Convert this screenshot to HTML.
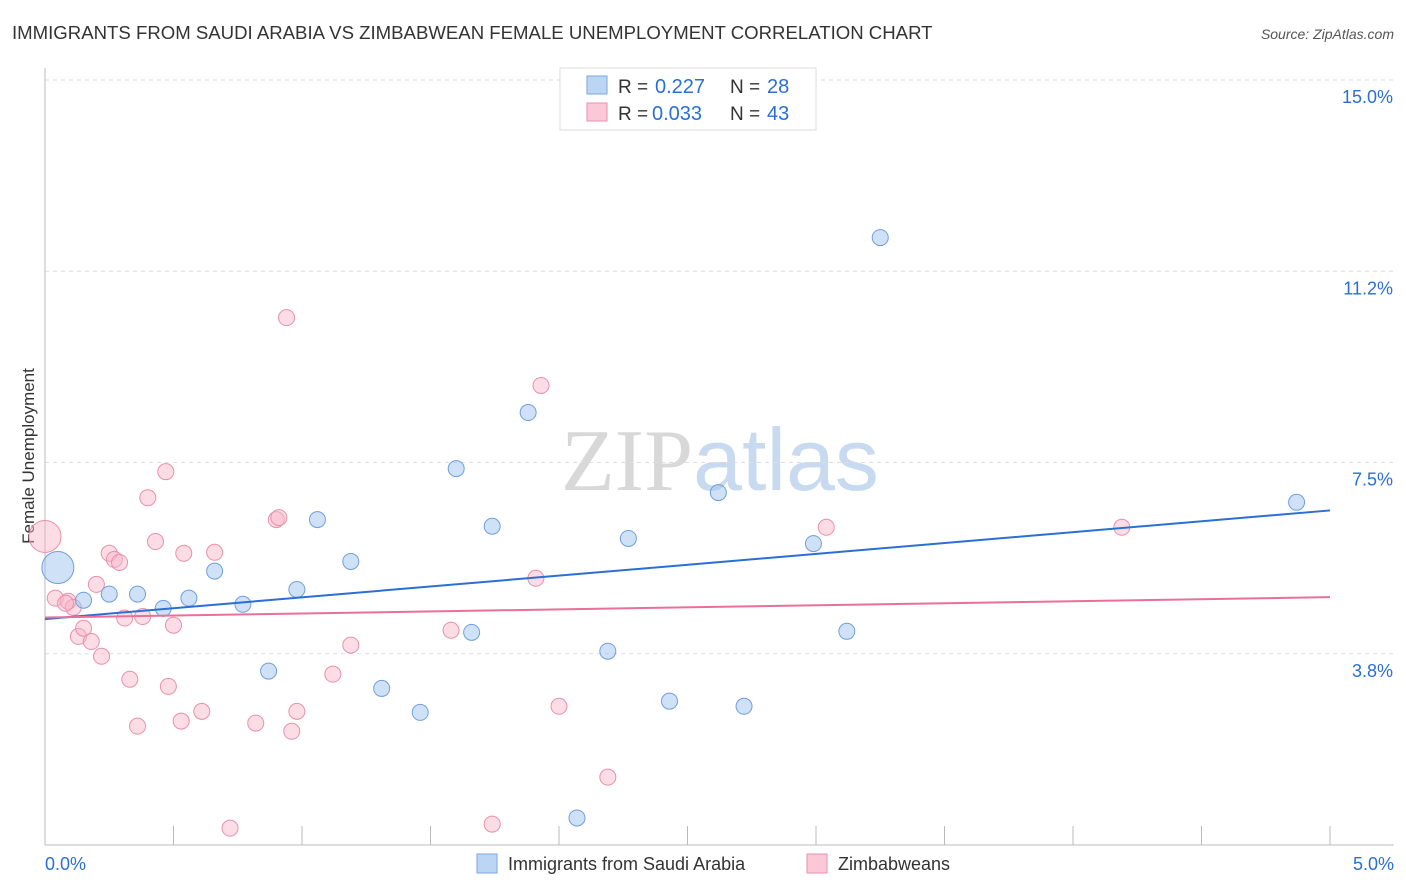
<!DOCTYPE html>
<html><head><meta charset="utf-8">
<style>
body{margin:0;background:#fff;font-family:"Liberation Sans",sans-serif;}
svg{display:block}
</style></head>
<body>
<svg id="chart" width="1406" height="892" xmlns="http://www.w3.org/2000/svg">
<text x="12" y="39" font-size="18.6" fill="#333">IMMIGRANTS FROM SAUDI ARABIA VS ZIMBABWEAN FEMALE UNEMPLOYMENT CORRELATION CHART</text>
<text x="1394" y="39" font-size="14" fill="#555" text-anchor="end" font-style="italic">Source: ZipAtlas.com</text>
<text x="720" y="490" font-size="88" text-anchor="middle"><tspan fill="#d8d8d8" font-family="Liberation Serif">ZIP</tspan><tspan fill="#c8daf0">atlas</tspan></text>
<text transform="translate(34,456) rotate(-90)" font-size="17" fill="#333" text-anchor="middle">Female Unemployment</text>
<g id="grid"></g>
<g id="marks"></g>
<g>
<rect x="560" y="68" width="256" height="62" fill="#fff" stroke="#ddd"/>
<rect x="587" y="76" width="20" height="18" fill="#bcd5f5" stroke="#7aa6e0"/>
<text x="618" y="93" font-size="19" fill="#333">R =</text>
<text x="655" y="93" font-size="20" fill="#2a6fd6">0.227</text>
<text x="730" y="93" font-size="19" fill="#333">N =</text>
<text x="767" y="93" font-size="20" fill="#2a6fd6">28</text>
<rect x="587" y="103" width="20" height="18" fill="#fac8d6" stroke="#e890ac"/>
<text x="618" y="120" font-size="19" fill="#333">R =</text>
<text x="652" y="120" font-size="20" fill="#2a6fd6">0.033</text>
<text x="730" y="120" font-size="19" fill="#333">N =</text>
<text x="767" y="120" font-size="20" fill="#2a6fd6">43</text>
</g>
<g>
<rect x="477" y="854" width="20" height="19" fill="#bcd5f5" stroke="#7aa6e0"/>
<text x="508" y="870" font-size="18" fill="#333">Immigrants from Saudi Arabia</text>
<rect x="807" y="854" width="20" height="19" fill="#fac8d6" stroke="#e890ac"/>
<text x="838" y="870" font-size="18" fill="#333">Zimbabweans</text>
</g>
</svg>
<script>
const yTicks=[3.75,7.5,11.25,15];
const yTickLabels=["3.8%","7.5%","11.2%","15.0%"];
const xTickLabels=["0.0%","5.0%"];
const blueX=[0.05,0.15,0.25,0.36,0.46,0.56,0.66,0.77,0.87,0.98,1.06,1.19,1.31,1.46,1.60,1.66,1.74,1.88,2.07,2.19,2.27,2.43,2.62,2.72,2.99,3.12,3.25,4.87];
const blueY=[5.44,4.80,4.92,4.92,4.64,4.84,5.37,4.72,3.41,5.01,6.38,5.56,3.07,2.60,7.38,4.17,6.25,8.48,0.53,3.80,6.01,2.82,6.91,2.72,5.91,4.19,11.91,6.72];
const pinkX=[0,0.04,0.09,0.11,0.13,0.15,0.18,0.20,0.22,0.25,0.27,0.29,0.31,0.33,0.36,0.38,0.40,0.43,0.47,0.48,0.50,0.53,0.54,0.61,0.66,0.72,0.82,0.90,0.91,0.94,0.96,0.98,1.12,1.19,1.58,1.74,1.91,1.93,2.00,2.19,3.04,4.19,0.08];
const pinkY=[6.05,4.84,4.78,4.66,4.09,4.25,3.99,5.11,3.70,5.72,5.60,5.54,4.45,3.25,2.33,4.48,6.81,5.95,7.32,3.11,4.31,2.43,5.72,2.62,5.74,0.33,2.39,6.38,6.42,10.34,2.23,2.62,3.35,3.92,4.21,0.41,5.23,9.01,2.72,1.33,6.23,6.23,4.74];
const blueTrend=[4.43,6.56];
const pinkTrend=[4.46,4.86];
const NS="http://www.w3.org/2000/svg";
const xs=v=>45+v/5*1285;
const ys=v=>845-v/15*765;
function mk(t,a,p){const e=document.createElementNS(NS,t);for(const k in a)e.setAttribute(k,a[k]);p.appendChild(e);return e;}
const grid=document.getElementById('grid'),marks=document.getElementById('marks');
yTicks.forEach((t,i)=>{
 const l=mk('line',{x1:45,x2:1394,y1:ys(t),y2:ys(t),stroke:'#ddd','stroke-dasharray':'4,4'},grid);
 
 
 const tx=mk('text',{x:1393,y:ys(t)+23,'font-size':18,fill:'#2a6fd6','text-anchor':'end'},grid);
 tx.textContent=yTickLabels[i];
 
 
});
const ax=mk('line',{x1:45,x2:45,y1:68,y2:845,stroke:'#bbb'},grid);


const bx=mk('line',{x1:45,x2:1394,y1:845,y2:845,stroke:'#bbb'},grid);


for(let i=1;i<=10;i++){const t=mk('line',{x1:xs(i*0.5),x2:xs(i*0.5),y1:826,y2:845,stroke:'#bbb'},grid);
 
 }
[[0,"start",45],[5,"end",1394]].forEach((d,i)=>{const t=mk('text',{x:d[2],y:870,'font-size':18,fill:'#2a6fd6','text-anchor':d[1]},grid);t.textContent=xTickLabels[i];
 
 });
function pts(X,Y,fill,stroke,name){X.forEach((x,i)=>{const r=(i===0)?16:8;
 const c=mk('circle',{cx:xs(x),cy:ys(Y[i]),r:r,fill:fill,stroke:stroke,'stroke-width':1},marks);
 
 });}
pts(pinkX,pinkY,'rgba(248,180,200,0.45)','#e890ac','zimbabweans-point');
pts(blueX,blueY,'rgba(160,196,240,0.5)','#6f9fdc','saudi-arabia-point');
const bl=mk('line',{x1:xs(0),x2:xs(5),y1:ys(blueTrend[0]),y2:ys(blueTrend[1]),stroke:'#2a6fd6','stroke-width':2},marks);


const pl=mk('line',{x1:xs(0),x2:xs(5),y1:ys(pinkTrend[0]),y2:ys(pinkTrend[1]),stroke:'#e8709a','stroke-width':2},marks);


</script>
</body></html>
